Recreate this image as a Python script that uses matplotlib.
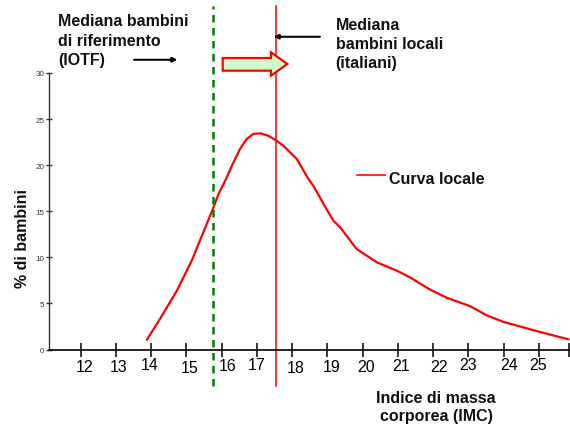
import matplotlib
matplotlib.use("Agg")
import matplotlib.pyplot as plt
from matplotlib.lines import Line2D
from matplotlib.patches import Polygon

plt.rcParams["font.family"] = ["Liberation Sans", "DejaVu Sans"]

# curva locale: IMC vs % di bambini
imc = [13.88, 14.25, 14.73, 15.15, 15.48, 15.75, 15.91, 16.10, 16.29, 16.52,
       16.71, 16.90, 17.09, 17.32, 17.56, 17.75, 18.13, 18.46, 18.60, 18.89,
       19.17, 19.36, 19.83, 20.40, 20.97, 21.34, 21.91, 22.39, 23.05, 23.52,
       23.99, 24.46, 25.03, 25.84]
perc = [1.06, 3.31, 6.38, 9.63, 12.72, 15.24, 16.87, 18.31, 19.94, 21.75,
        22.84, 23.39, 23.46, 23.20, 22.65, 22.11, 20.67, 18.50, 17.77, 15.79,
        13.97, 13.26, 10.90, 9.46, 8.55, 7.83, 6.5, 5.6, 4.7, 3.7,
        3.0, 2.5, 1.9, 1.1]

mediana_iotf = 15.75
mediana_locale = 17.53

xticks = list(range(12, 26))
xlabels = [str(t) for t in xticks]
# piccoli spostamenti delle etichette (pt), come nell'originale
label_dx = [3, 2, -1, 2, 4, 0, 2.5, 3, 2.7, 2.5, 4, 0, 4, -0.5]
label_dy = [-12, -12, -10.5, -13, -11.5, -11, -13, -12.5, -12.5, -11.5, -12, -11, -11, -11]

W, H = 570, 427


def fp(x, y):
    """pixel dell'immagine -> frazione della figura"""
    return x / W, 1 - y / H


fig = plt.figure(figsize=(5.7, 4.27), dpi=100)
ax = fig.add_axes([48.9 / W, 1 - 350.5 / H, (569.3 - 48.9) / W, (350.5 - 74) / H])
ax.set_xlim(11.10, 25.86)
ax.set_ylim(0, 30)

ax.plot(imc, perc, color="#ff0000", lw=1.6, clip_on=False,
        solid_joinstyle="round", solid_capstyle="round")

ax.plot([mediana_iotf, mediana_iotf], [-3.96, 37.3], color="#008000", lw=1.8,
        ls=(0, (3, 2.2)), clip_on=False)
ax.plot([mediana_locale, mediana_locale], [-3.96, 37.3], color="#ff0000", lw=1.1,
        clip_on=False)

for s in ["top", "right"]:
    ax.spines[s].set_visible(False)
ax.spines["bottom"].set_linewidth(1.2)
ax.spines["left"].set_linewidth(1.0)
ax.spines["left"].set_color("#333333")

ax.set_xticks(xticks)
ax.set_xticklabels([])
ax.set_xticks([25.86], minor=True)
ax.tick_params(axis="x", which="both", direction="inout", length=9.5, width=1.1)
ax.set_yticks(range(0, 31, 5))
ax.tick_params(axis="y", direction="inout", length=4.5, width=1.0, color="#333333",
               labelsize=5.8, labelcolor="#333333", pad=1)

for t, lbl, dx, dy in zip(xticks, xlabels, label_dx, label_dy):
    ax.annotate(lbl, xy=(t, 0), xytext=(dx, dy), textcoords="offset points",
                ha="center", va="center", fontsize=11.5, annotation_clip=False)

bold = dict(fontsize=11.5, fontweight="bold", color="#111111")
fig.text(*fp(58, 41), "Mediana bambini\ndi riferimento\n(IOTF)", ha="left", va="center",
         linespacing=1.37, **bold)
fig.text(*fp(335.7, 44.5), "Mediana\nbambini locali\n(italiani)", ha="left", va="center",
         linespacing=1.3, **bold)
fig.text(*fp(389, 179.5), "Curva locale", ha="left", va="center", **bold)
fig.add_artist(Line2D([356.7 / W, 385 / W], [1 - 175.7 / H, 1 - 175.7 / H],
                      color="#ff0000", lw=1.2))
fig.text(*fp(436, 407.5), "Indice di massa\ncorporea (IMC)", ha="center", va="center",
         multialignment="center", linespacing=1.3, **bold)
fig.text(*fp(23, 239), "% di bambini", ha="center", va="center", rotation=90, **bold)

# frecce nere
fig.add_artist(plt.annotate("", xy=fp(177, 60.7), xytext=fp(134, 60.7),
                            xycoords="figure fraction", textcoords="figure fraction",
                            arrowprops=dict(arrowstyle="-|>", color="black", lw=1.2,
                                            mutation_scale=7, shrinkA=0, shrinkB=0)))
fig.add_artist(plt.annotate("", xy=fp(274, 37.7), xytext=fp(320, 37.7),
                            xycoords="figure fraction", textcoords="figure fraction",
                            arrowprops=dict(arrowstyle="-|>", color="black", lw=1.2,
                                            mutation_scale=7, shrinkA=0, shrinkB=0)))

# freccia verde (spostamento della mediana)
pts = [(222.7, 59), (271, 59), (271, 53.3), (287.3, 65), (271, 76.7), (271, 71.7), (222.7, 71.7)]
fig.add_artist(Polygon([fp(x, y) for x, y in pts], closed=True, facecolor="#ccffcc",
                       edgecolor="#ff0000", lw=1.6, transform=fig.transFigure))

fig.savefig("out.png", dpi=100)
